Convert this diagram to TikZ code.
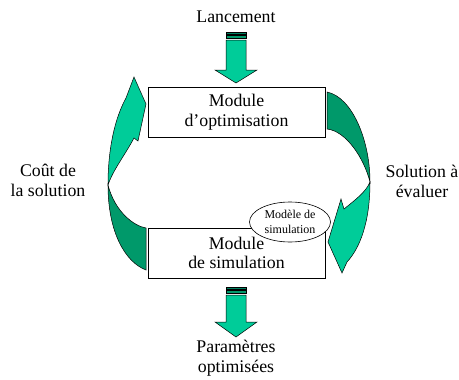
\documentclass[tikz,border=0pt]{standalone}
\usepackage{fontspec}
\setmainfont{Liberation Serif}
\usetikzlibrary{shapes.geometric}
\definecolor{teal1}{RGB}{0,204,153}
\definecolor{teal2}{RGB}{0,153,106}
\definecolor{teal3}{RGB}{0,128,96}
\tikzset{
  modbox/.style={draw=black, line width=0.8pt, fill=white, minimum width=177pt,
    minimum height=50pt, inner sep=0pt, align=center, font=\fontsize{17.8}{19.5}\selectfont},
  lbl/.style={align=center, inner sep=0pt, font=\fontsize{17.8}{20}\selectfont},
  litepart/.style={fill=teal1, draw=black, line width=0.5pt, line join=miter},
  darkpart/.style={fill=teal2, draw=black, line width=0.5pt},
  stripe/.style={fill=teal3, draw=black, line width=0.5pt},
  simell/.style={ellipse, draw=black, line width=0.6pt, fill=white, minimum width=81pt,
    minimum height=40pt, inner sep=0pt, align=center, font=\fontsize{12}{15}\selectfont}
}
\begin{document}
\begin{tikzpicture}[x=1pt, y=-1pt]
\useasboundingbox (0,0) rectangle (459,380);

% striped arrow into the optimisation module
\draw[stripe] (226,32) rectangle (246,34);
\draw[stripe, fill=teal2] (226,35.5) rectangle (246,38.5);
\draw[litepart] (226,40) -- (246,40) -- (246,70) -- (257,70) -- (236,83)
  -- (215,70) -- (226,70) -- cycle;

% striped arrow out of the simulation module
\draw[stripe] (226,287) rectangle (246,289);
\draw[stripe, fill=teal2] (226,290.5) rectangle (246,293.5);
\draw[litepart] (226,295) -- (246,295) -- (246,322) -- (257,322) -- (236,337)
  -- (215,322) -- (226,322) -- cycle;

% left curved arrow: cost returned to the optimiser
\draw[darkpart] (108,185) .. controls (108,232) and (125,262) .. (146,270)
  -- (146,228) .. controls (134,226) and (115,212) .. cycle;
\draw[litepart] (108,185) .. controls (108,148) and (115,118) .. (126,98)
  -- (134,77) -- (146,104) -- (138,141) -- (134,138)
  .. controls (125,155) and (113,170) .. cycle;

% right curved arrow: solution sent to the simulator
\draw[darkpart] (327,92) .. controls (352,97) and (370,140) .. (370,182)
  .. controls (364,158) and (346,131) .. (327,129) -- cycle;
\draw[litepart] (370,182) .. controls (370,222) and (360,248) .. (347,262)
  -- (342,273) -- (328,242) -- (341,199) -- (344,209)
  .. controls (355,200) and (366,192) .. cycle;

% modules
\node[modbox] (optim) at (236.5,112) {Module\\d’optimisation};
\node[modbox] (simu) at (236.5,253) {Module\\de simulation};
\node[simell] (model) at (290,222) {Modèle de\\simulation};

% labels
\node[lbl] (launch) at (236,17) {Lancement};
\node[lbl] (cost) at (48,180) {Coût de\\la solution};
\node[lbl] (sol) at (422,181) {Solution à\\évaluer};
\node[lbl] (params) at (236,358) {Paramètres\\optimisées};
\end{tikzpicture}
\end{document}
